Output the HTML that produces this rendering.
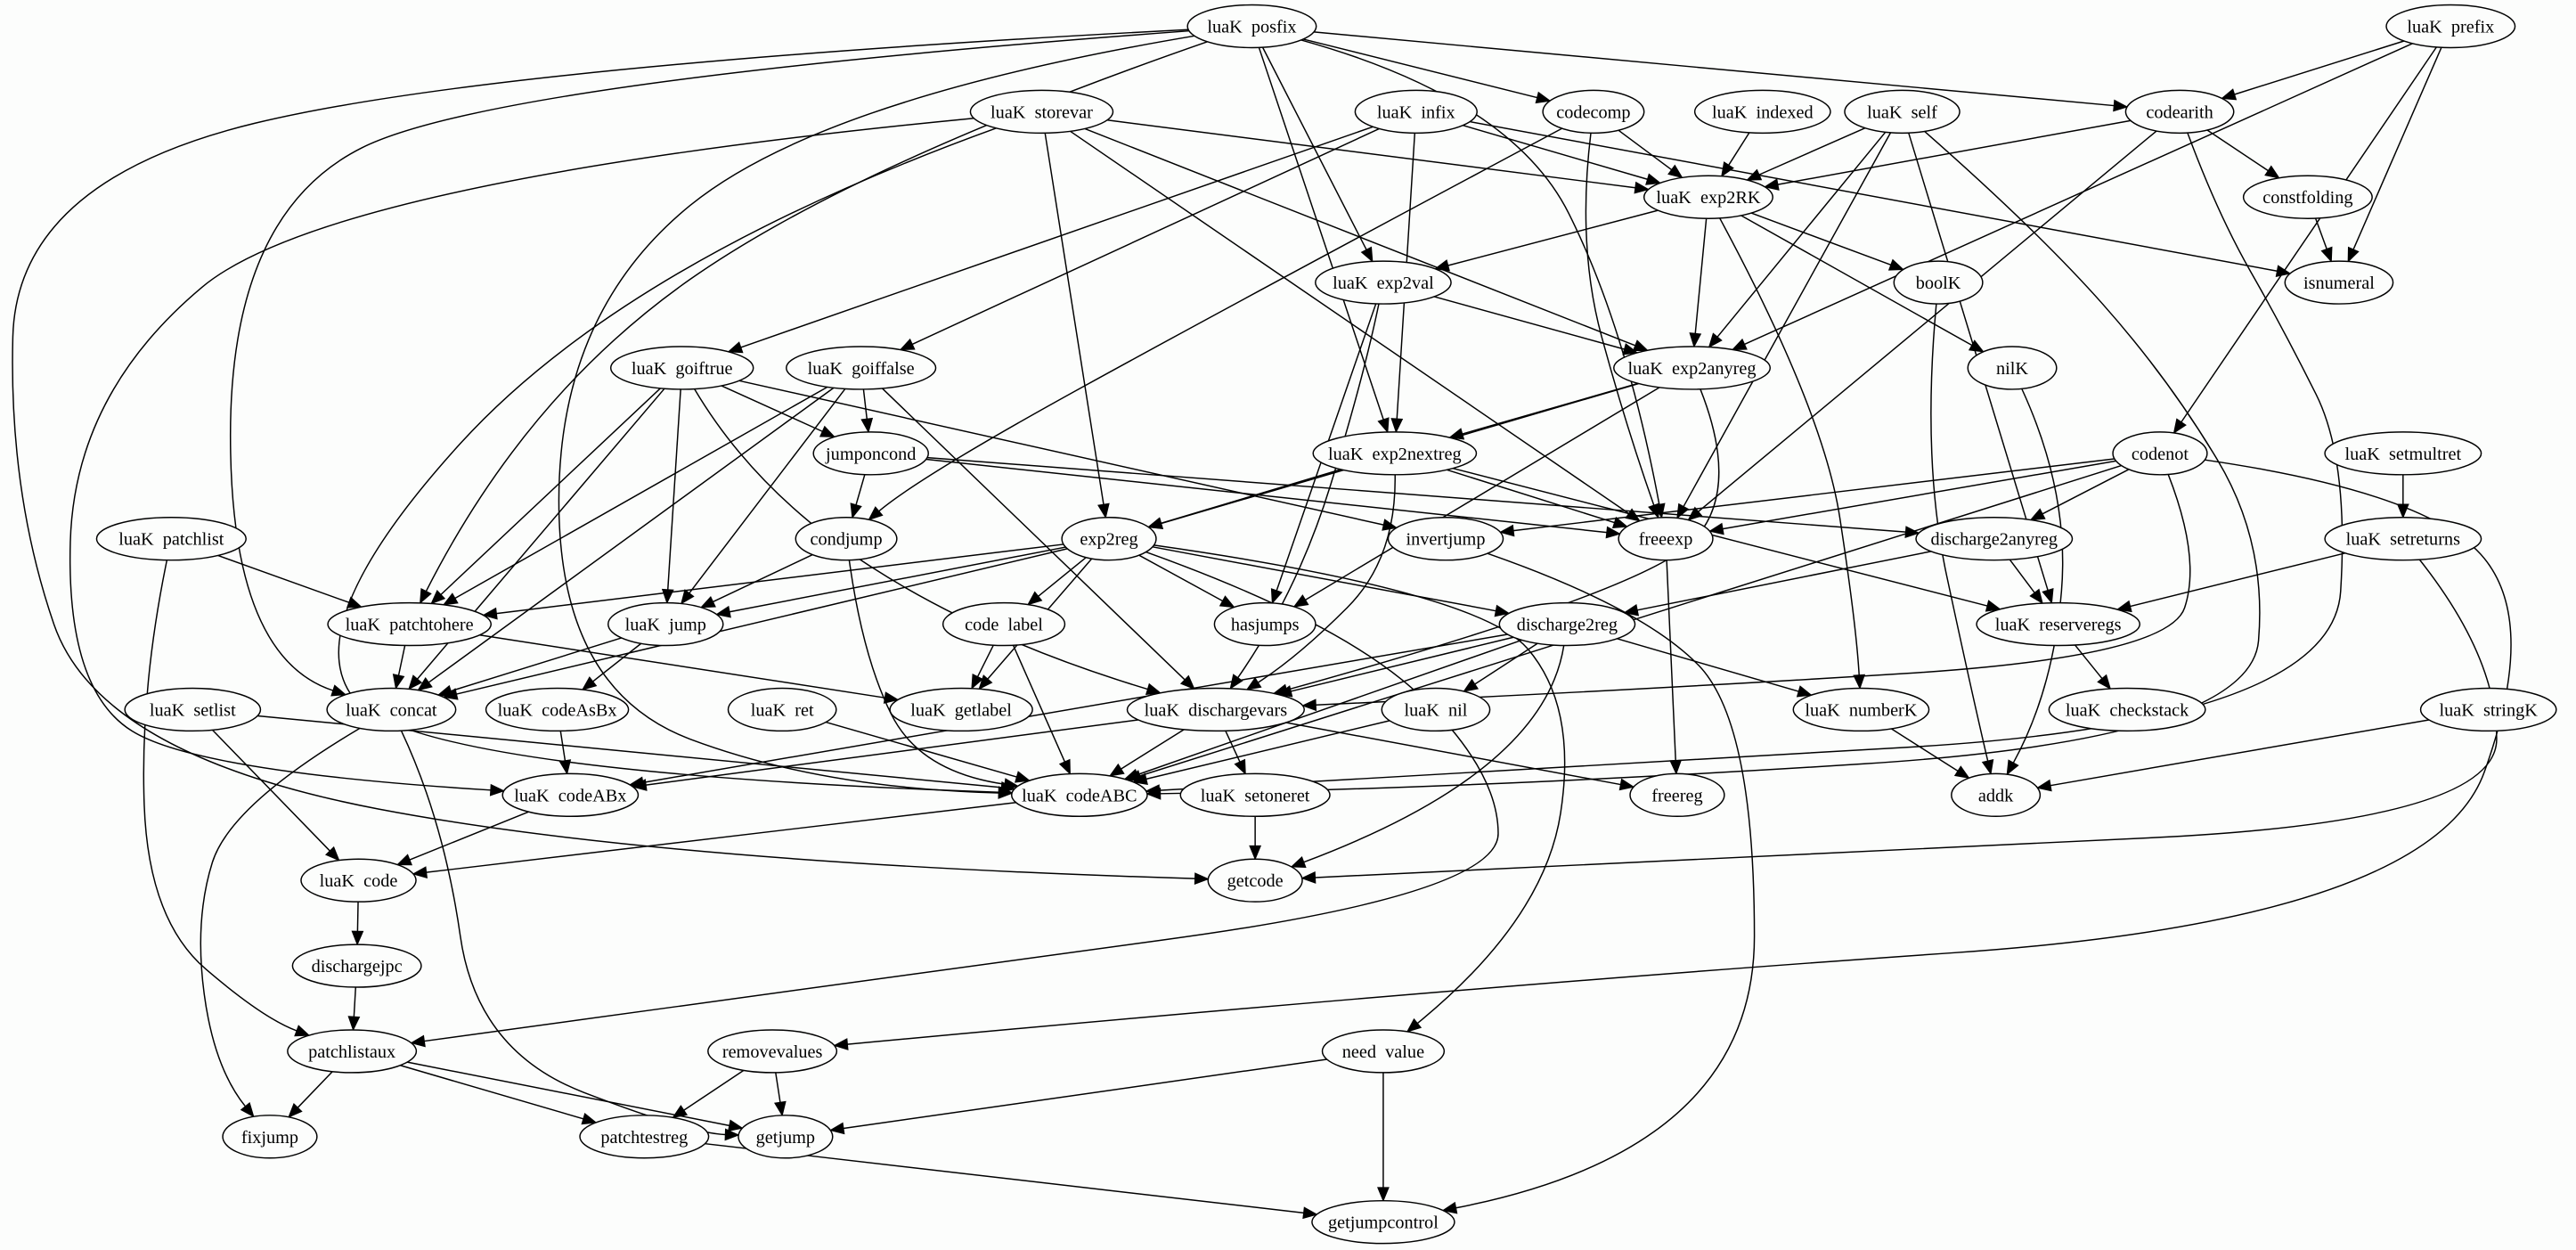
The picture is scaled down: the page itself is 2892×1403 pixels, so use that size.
<!DOCTYPE html>
<html><head><meta charset="utf-8"><style>
html,body{margin:0;padding:0;background:#fcfdfc;}
svg{display:block;}
text{font-family:"Liberation Serif",serif;font-size:11px;white-space:pre;}
</style></head><body>
<svg id="g" xmlns="http://www.w3.org/2000/svg" width="2892" height="1403" viewBox="0 0 1568 761"><rect width="1568" height="761" fill="#fcfdfc"/></svg>
<script>
var N={
posfix:[762,16,"luaK  posfix"],prefix:[1492,16,"luaK  prefix"],storevar:[634,68,"luaK  storevar"],
infix:[862,68,"luaK  infix"],codecomp:[970,68,"codecomp"],indexed:[1073,68,"luaK  indexed"],
self:[1158,68,"luaK  self"],codearith:[1327,68,"codearith"],exp2RK:[1040,120,"luaK  exp2RK"],
constfolding:[1405,120,"constfolding"],exp2val:[842,172,"luaK  exp2val"],boolK:[1180,172,"boolK"],
isnumeral:[1424,172,"isnumeral"],goiftrue:[415,224,"luaK  goiftrue"],goiffalse:[524,224,"luaK  goiffalse"],
exp2anyreg:[1030,224,"luaK  exp2anyreg"],nilK:[1225,224,"nilK"],jumponcond:[530,276,"jumponcond"],
exp2nextreg:[849,276,"luaK  exp2nextreg"],codenot:[1315,276,"codenot"],setmultret:[1463,276,"luaK  setmultret"],
patchlist:[104,328,"luaK  patchlist"],condjump:[515,328,"condjump"],exp2reg:[675,328,"exp2reg"],
invertjump:[880,328,"invertjump"],freeexp:[1014,328,"freeexp"],discharge2anyreg:[1214,328,"discharge2anyreg"],
setreturns:[1463,328,"luaK  setreturns"],patchtohere:[249,380,"luaK  patchtohere"],jump:[405,380,"luaK  jump"],
code_label:[611,380,"code  label"],hasjumps:[770,380,"hasjumps"],discharge2reg:[954,380,"discharge2reg"],
reserveregs:[1253,380,"luaK  reserveregs"],setlist:[117,432,"luaK  setlist"],concat:[238,432,"luaK  concat"],
codeAsBx:[339,432,"luaK  codeAsBx"],ret:[476,432,"luaK  ret"],getlabel:[585,432,"luaK  getlabel"],
dischargevars:[740,432,"luaK  dischargevars"],nil:[874,432,"luaK  nil"],numberK:[1133,432,"luaK  numberK"],
checkstack:[1295,432,"luaK  checkstack"],stringK:[1515,432,"luaK  stringK"],codeABx:[347,484,"luaK  codeABx"],
codeABC:[657,484,"luaK  codeABC"],setoneret:[764,484,"luaK  setoneret"],freereg:[1021,484,"freereg"],
addk:[1215,484,"addk"],code:[218,536,"luaK  code"],getcode:[764,536,"getcode"],dischargejpc:[217,588,"dischargejpc"],
patchlistaux:[214,640,"patchlistaux"],removevalues:[470,640,"removevalues"],need_value:[842,640,"need  value"],
fixjump:[164,692,"fixjump"],patchtestreg:[392,692,"patchtestreg"],getjump:[478,692,"getjump"],
getjumpcontrol:[842,744,"getjumpcontrol"]};
var W={
"posfix getcode":[[300,40],[10,110],[5,300],[60,460],[400,525]],
"storevar codeABx":[[200,110],[45,240],[40,420],[120,470]],
"posfix concat":[[300,50],[140,130],[140,400]],
"posfix codeABC":[[500,60],[340,190],[340,420],[500,480]],
"posfix patchtohere":[[520,100],[320,240]],
"storevar codeABC":[[380,160],[180,380],[250,470]],
"exp2reg patchlistaux":[[820,380],[912,470],[912,545],[500,600]],
"codenot removevalues":[[1480,300],[1545,380],[1480,560],[900,600]],
"setreturns getcode":[[1520,400],[1520,500],[1100,520]],
"invertjump getjumpcontrol":[[1000,370],[1068,440],[1068,700]],
"exp2reg need_value":[[900,360],[960,430],[940,560]],
"concat getjump":[[270,500],[290,640],[420,690]],
"concat fixjump":[[140,490],[118,560],[130,650]],
"patchlist patchlistaux":[[85,420],[90,560],[160,620]],
"codearith codeABC":[[1350,130],[1390,200],[1430,280],[1420,440],[900,470]],
"self codeABC":[[1240,140],[1320,230],[1380,330],[1370,450],[900,480]],
"codenot dischargevars":[[1340,340],[1320,400],[1000,420]],
"exp2anyreg dischargevars":[[1060,300],[1000,360]],
"goiftrue dischargevars":[[460,300],[600,390]],
"jumponcond codeABC":[[490,320],[470,420],[560,480]],
"condjump codeABC":[[525,400],[560,470]],
"codecomp condjump":[[760,180],[560,290]],
"codecomp freeexp":[[960,150],[990,260]],
"posfix freeexp":[[920,60],[990,200]],
"exp2val dischargevars":[[830,230],[790,360]],
"exp2nextreg dischargevars":[[850,340],[790,400]],
"discharge2reg getcode":[[940,470]],
"jumponcond getcode":[[470,330],[460,480],[650,520]],
"exp2RK numberK":[[1110,250],[1130,380]],
"boolK addk":[[1170,280],[1200,420]],
"nilK addk":[[1260,300],[1250,420]]
};
var E="posfix codecomp,posfix codearith,posfix exp2val,posfix exp2nextreg,posfix freeexp,posfix concat,posfix getcode,posfix codeABC,posfix patchtohere,prefix codearith,prefix isnumeral,prefix exp2anyreg,prefix codenot,storevar exp2RK,storevar exp2anyreg,storevar exp2reg,storevar freeexp,storevar codeABx,storevar codeABC,infix exp2RK,infix isnumeral,infix exp2nextreg,infix goiftrue,infix goiffalse,codecomp exp2RK,codecomp freeexp,codecomp condjump,indexed exp2RK,self exp2RK,self exp2anyreg,self freeexp,self reserveregs,self codeABC,codearith exp2RK,codearith constfolding,codearith freeexp,codearith codeABC,exp2RK exp2val,exp2RK exp2anyreg,exp2RK boolK,exp2RK nilK,exp2RK numberK,constfolding isnumeral,exp2val exp2anyreg,exp2val hasjumps,exp2val dischargevars,boolK addk,nilK addk,exp2anyreg exp2nextreg,exp2anyreg exp2reg,exp2anyreg hasjumps,exp2anyreg dischargevars,goiftrue jumponcond,goiftrue jump,goiftrue patchtohere,goiftrue concat,goiftrue dischargevars,goiftrue invertjump,goiffalse jumponcond,goiffalse jump,goiffalse patchtohere,goiffalse concat,goiffalse dischargevars,jumponcond condjump,jumponcond freeexp,jumponcond discharge2anyreg,exp2nextreg exp2reg,exp2nextreg freeexp,exp2nextreg reserveregs,exp2nextreg dischargevars,codenot invertjump,codenot freeexp,codenot discharge2anyreg,codenot dischargevars,codenot codeABC,codenot removevalues,setmultret setreturns,patchlist patchtohere,patchlist patchlistaux,condjump jump,condjump codeABC,exp2reg patchtohere,exp2reg jump,exp2reg code_label,exp2reg hasjumps,exp2reg discharge2reg,exp2reg getlabel,exp2reg concat,exp2reg patchlistaux,exp2reg need_value,invertjump getjumpcontrol,freeexp freereg,discharge2anyreg reserveregs,discharge2anyreg discharge2reg,setreturns reserveregs,setreturns getcode,patchtohere concat,patchtohere getlabel,jump concat,jump codeAsBx,code_label getlabel,code_label codeABC,discharge2reg dischargevars,discharge2reg nil,discharge2reg numberK,discharge2reg codeABC,discharge2reg codeABx,discharge2reg getcode,reserveregs checkstack,setlist code,setlist codeABC,concat fixjump,concat getjump,codeAsBx codeABx,ret codeABC,dischargevars codeABx,dischargevars codeABC,dischargevars setoneret,dischargevars freereg,nil codeABC,numberK addk,stringK addk,codeABx code,codeABC code,setoneret getcode,code dischargejpc,dischargejpc patchlistaux,patchlistaux fixjump,patchlistaux patchtestreg,patchlistaux getjump,removevalues patchtestreg,removevalues getjump,need_value getjump,need_value getjumpcontrol,patchtestreg getjumpcontrol".split(",");
var svg=document.getElementById("g"),ns="http://www.w3.org/2000/svg";
function rx(k){return Math.max(27,N[k][2].length*2.1+14);}
var RY=13;
function bnd(k,dx,dy){var a=rx(k),b=RY;var t=1/Math.sqrt(dx*dx/(a*a)+dy*dy/(b*b));return [N[k][0]+dx*t,N[k][1]+dy*t];}
function el(n,at){var e=document.createElementNS(ns,n);for(var k in at)e.setAttribute(k,at[k]);svg.appendChild(e);return e;}
E.forEach(function(s){var p=s.split(" "),a=p[0],b=p[1];var wp=W[s]||[];
var f=wp.length?wp[0]:[N[b][0],N[b][1]],l=wp.length?wp[wp.length-1]:[N[a][0],N[a][1]];
var s0=bnd(a,f[0]-N[a][0],f[1]-N[a][1]),e0=bnd(b,l[0]-N[b][0],l[1]-N[b][1]);
var L=Math.hypot(e0[0]-l[0],e0[1]-l[1]);var ux=(e0[0]-l[0])/L,uy=(e0[1]-l[1])/L;
var al=8,aw=3.3;var bx=e0[0]-ux*al,by=e0[1]-uy*al;
var pts=[s0].concat(wp).concat([[bx,by]]);var d="M"+pts[0][0]+","+pts[0][1];
if(pts.length==2){d+=" L"+bx+","+by;}else{
for(var i=1;i<pts.length-1;i++){var mx=(pts[i][0]+pts[i+1][0])/2,my=(pts[i][1]+pts[i+1][1])/2;
if(i==pts.length-2){mx=pts[i+1][0];my=pts[i+1][1];}
d+=" Q"+pts[i][0]+","+pts[i][1]+" "+mx+","+my;}}
el("path",{d:d,fill:"none",stroke:"#000","stroke-width":0.8});
el("polygon",{points:e0[0]+","+e0[1]+" "+(bx-uy*aw)+","+(by+ux*aw)+" "+(bx+uy*aw)+","+(by-ux*aw),fill:"#000",stroke:"#000","stroke-width":0.6});});
for(var k in N){el("ellipse",{cx:N[k][0],cy:N[k][1],rx:rx(k),ry:RY,fill:"#fcfdfc",stroke:"#000","stroke-width":0.8});
var t=el("text",{x:N[k][0],y:N[k][1]+3.8,"text-anchor":"middle"});t.textContent=N[k][2];}
</script>
</body></html>
